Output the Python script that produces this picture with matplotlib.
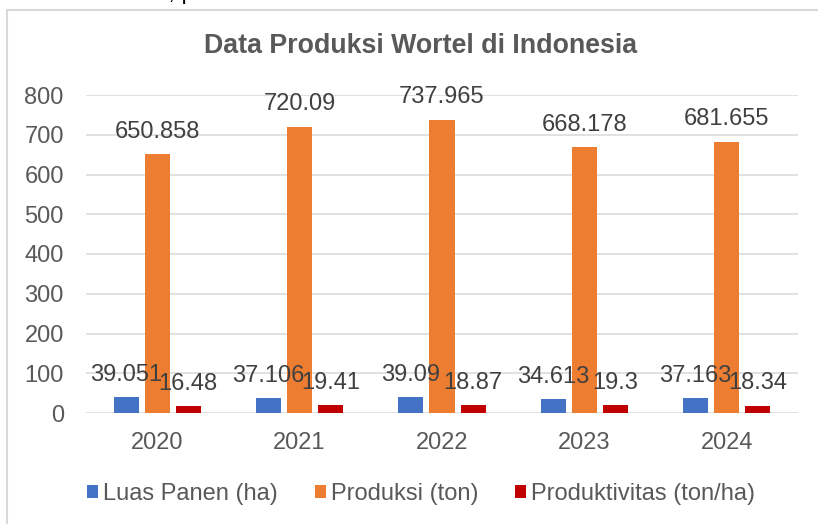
import numpy as np
import matplotlib.pyplot as plt
from matplotlib.patches import Rectangle

plt.rcParams['font.family'] = ['Liberation Sans', 'DejaVu Sans']

# Data
years = ['2020', '2021', '2022', '2023', '2024']
luas_panen = [39.051, 37.106, 39.09, 34.613, 37.163]
produksi = [650.858, 720.09, 737.965, 668.178, 681.655]
produktivitas = [16.48, 19.41, 18.87, 19.3, 18.34]

series_names = ['Luas Panen (ha)', 'Produksi (ton)', 'Produktivitas (ton/ha)']
colors = ['#4472C4', '#ED7D31', '#C00000']
text_color = '#595959'
grid_color = '#D9D9D9'

W, H = 818, 524
fig = plt.figure(figsize=(W / 100, H / 100), dpi=100)

# chart frame (runs off the right and bottom edge)
fig.patches.append(Rectangle((7 / W, -0.1), 1.2, 1 - 10 / H + 0.1,
                             transform=fig.transFigure, fill=False,
                             edgecolor=grid_color, linewidth=1.5))

# clipped line of body text above the chart
fig.text(13 / W, 1 + 1 / H, 'dalam data set, pada Gambar', fontsize=17,
         color='black', va='baseline', ha='left')

ax = fig.add_axes([86 / W, (H - 413) / H, (798 - 86) / W, (413 - 95) / H])

x = np.arange(len(years))
step = 0.218
width = 0.176
for i, (vals, name, c) in enumerate(zip([luas_panen, produksi, produktivitas],
                                        series_names, colors)):
    pos = x + (i - 1) * step
    ax.bar(pos, vals, width=width, color=c, label=name, zorder=3)
    for px, v in zip(pos, vals):
        ax.annotate(str(v), (px, v), xytext=(0, 12), textcoords='offset points',
                    ha='center', va='baseline', fontsize=17, color='#404040',
                    zorder=4)

ax.set_xlim(-0.5, len(years) - 0.5)
ax.set_ylim(0, 800)
ax.set_yticks(np.arange(0, 801, 100))
ax.set_xticks(x)
ax.set_xticklabels(years)
ax.tick_params(axis='both', length=0, labelsize=17, labelcolor=text_color)
ax.tick_params(axis='y', pad=16)
ax.tick_params(axis='x', pad=14)
ax.grid(axis='y', color=grid_color, linewidth=1.1, zorder=0)
for s in ax.spines.values():
    s.set_visible(False)

fig.text(421 / W, 1 - 46 / H, 'Data Produksi Wortel di Indonesia', fontsize=19.3,
         fontweight='bold', color=text_color, ha='center', va='center')

handles, labels = ax.get_legend_handles_labels()
fig.legend(handles, labels, loc='center', bbox_to_anchor=(421 / W, 1 - 494 / H),
           ncol=3, frameon=False, fontsize=17, handlelength=0.47, handleheight=0.47,
           handletextpad=0.2, columnspacing=1.57, labelcolor=text_color)

fig.savefig('out.png', dpi=100)
